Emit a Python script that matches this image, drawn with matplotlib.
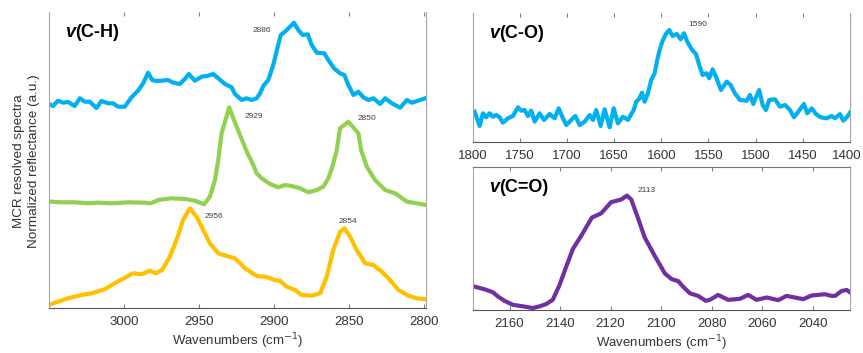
import matplotlib
matplotlib.use("Agg")
import matplotlib.pyplot as plt
import matplotlib.transforms as mtransforms

plt.rcParams['font.family'] = ['Liberation Sans', 'DejaVu Sans']

# v(C-H) panel: three MCR components (wavenumber, relative height)
ch_top_x = [3049.5, 3047.3, 3044.0, 3040.7, 3037.3, 3032.9, 3029.5, 3026.2, 3022.9, 3018.4,
            3015.1, 3010.7, 3007.3, 3004.0, 2999.5, 2995.1, 2990.7, 2987.3, 2984.0, 2981.3,
            2978.4, 2975.1, 2970.7, 2967.3, 2962.9, 2959.5, 2956.9, 2952.9, 2948.4, 2944.0,
            2940.7, 2937.3, 2932.9, 2928.4, 2926.2, 2921.7, 2918.4, 2915.1, 2911.7, 2909.5,
            2907.3, 2904.0, 2900.7, 2897.7, 2895.7, 2892.9, 2889.5, 2886.9, 2884.0, 2881.1,
            2877.7, 2875.1, 2871.7, 2866.7, 2864.0, 2860.2, 2856.2, 2853.3, 2850.7, 2847.3,
            2844.0, 2840.7, 2837.3, 2834.0, 2829.5, 2826.2, 2821.7, 2816.2, 2811.7, 2808.4,
            2802.9, 2799.5]
ch_top_y = [203.7, 202.0, 207.3, 205.3, 206.0, 202.0, 209.7, 206.3, 206.3, 200.0,
            207.0, 204.7, 204.7, 201.3, 201.3, 210.7, 217.3, 224.7, 235.3, 228.0,
            227.0, 227.3, 228.0, 225.3, 224.0, 229.0, 234.0, 227.3, 231.3, 232.3,
            234.0, 229.7, 224.0, 220.7, 214.0, 208.0, 209.7, 208.0, 209.7, 214.7,
            222.0, 228.0, 243.0, 261.3, 273.0, 276.3, 281.3, 285.3, 278.0, 273.0,
            273.7, 263.0, 255.3, 254.7, 248.0, 239.7, 234.7, 233.0, 223.0, 213.0,
            216.3, 210.7, 208.0, 209.7, 204.0, 209.7, 204.7, 200.3, 208.0, 205.3,
            208.0, 209.7]

ch_mid_x = [3048.4, 3041.7, 3032.9, 3024.0, 3017.3, 3008.4, 2997.3, 2986.2, 2982.2, 2977.3,
            2968.4, 2959.5, 2952.9, 2946.7, 2942.9, 2939.5, 2937.3, 2935.1, 2930.0, 2925.1,
            2918.2, 2914.0, 2911.7, 2908.4, 2902.9, 2897.3, 2892.9, 2888.4, 2882.9, 2877.3,
            2871.7, 2867.3, 2864.0, 2861.3, 2858.4, 2856.2, 2850.7, 2844.0, 2842.2, 2838.4,
            2832.9, 2826.2, 2819.5, 2811.7, 2805.1, 2799.0]
ch_mid_y = [106.3, 105.7, 105.7, 104.7, 105.3, 104.7, 105.7, 105.3, 104.7, 108.0,
            109.7, 109.0, 107.3, 103.7, 111.3, 128.0, 148.0, 174.7, 200.7, 181.3,
            156.0, 143.0, 134.7, 129.7, 124.0, 120.7, 123.0, 122.0, 119.7, 115.7,
            118.0, 121.3, 129.7, 141.3, 158.0, 179.7, 186.3, 174.7, 158.0, 141.3,
            128.0, 118.0, 114.7, 106.3, 104.7, 103.0]

ch_low_x = [3048.4, 3044.0, 3037.3, 3028.4, 3021.7, 3012.9, 3006.2, 2999.5, 2994.0, 2988.4,
            2982.9, 2978.9, 2974.7, 2969.5, 2965.1, 2960.7, 2956.2, 2951.7, 2947.3, 2942.9,
            2937.3, 2931.7, 2926.2, 2922.9, 2919.5, 2911.7, 2906.2, 2899.5, 2896.2, 2891.8,
            2886.2, 2881.8, 2875.1, 2869.5, 2865.1, 2860.7, 2856.2, 2853.3, 2849.5, 2845.1,
            2839.5, 2834.0, 2828.4, 2822.9, 2817.3, 2810.7, 2805.1, 2799.0]
ch_low_y = [4.0, 6.3, 9.7, 13.0, 14.7, 18.7, 24.7, 30.3, 34.7, 33.7,
            37.3, 34.7, 38.0, 51.3, 68.0, 88.0, 99.7, 91.3, 78.0, 64.7,
            54.7, 52.0, 49.7, 45.0, 39.7, 32.0, 31.3, 28.0, 27.3, 21.3,
            18.0, 13.0, 12.3, 14.7, 31.3, 58.0, 76.3, 79.7, 71.3, 58.0,
            44.7, 43.0, 36.3, 28.0, 18.0, 12.3, 9.7, 8.7]

# v(C-O) panel
co_x = [1797.9, 1792.6, 1789.1, 1785.6, 1782.0, 1778.5, 1775.0, 1771.4, 1767.9, 1762.6,
        1757.3, 1752.0, 1748.5, 1744.9, 1741.4, 1737.9, 1734.3, 1729.0, 1724.4, 1718.4,
        1713.1, 1708.8, 1704.3, 1700.8, 1695.5, 1691.2, 1686.6, 1681.3, 1676.0, 1672.5,
        1669.0, 1664.3, 1660.1, 1654.8, 1650.5, 1646.0, 1640.7, 1635.4, 1629.3, 1626.6,
        1623.0, 1620.5, 1617.7, 1614.2, 1610.7, 1607.1, 1604.3, 1601.8, 1598.8, 1595.1,
        1591.6, 1588.0, 1583.7, 1579.5, 1576.0, 1572.5, 1567.8, 1563.3, 1559.8, 1556.2,
        1551.9, 1549.2, 1545.6, 1542.1, 1536.8, 1530.7, 1526.5, 1522.0, 1516.6, 1509.5,
        1506.0, 1502.5, 1499.7, 1496.2, 1492.6, 1489.1, 1485.6, 1479.5, 1474.2, 1468.9,
        1463.6, 1459.4, 1454.8, 1448.8, 1445.3, 1440.6, 1436.1, 1431.1, 1424.7, 1419.4,
        1415.9, 1410.6, 1407.1, 1402.9, 1400.0]
co_y = [30.0, 15.7, 28.4, 24.4, 28.4, 25.0, 26.7, 24.4, 19.0, 23.4,
        25.7, 34.4, 31.0, 31.7, 25.7, 31.0, 20.0, 28.4, 21.7, 27.7,
        23.4, 33.4, 23.4, 16.7, 21.7, 25.7, 16.7, 20.0, 26.7, 21.7,
        31.7, 15.7, 32.4, 14.4, 33.4, 18.4, 25.0, 21.7, 31.7, 40.0,
        43.4, 49.0, 40.0, 48.4, 61.7, 68.4, 81.7, 91.7, 100.5, 107.7,
        111.7, 105.7, 107.7, 102.4, 108.4, 100.0, 92.4, 87.7, 76.7, 66.7,
        68.4, 63.4, 72.4, 65.0, 51.7, 60.0, 56.7, 48.4, 41.7, 41.0,
        46.7, 37.7, 44.4, 51.7, 36.7, 31.7, 41.7, 42.4, 35.0, 36.7,
        31.7, 24.4, 30.0, 37.7, 28.4, 33.4, 27.7, 24.4, 23.4, 25.7,
        23.4, 27.7, 21.0, 25.0, 29.0]

# v(C=O) panel
cdo_x = [2173.9, 2169.9, 2166.6, 2164.6, 2162.0, 2158.7, 2154.7, 2150.8, 2148.1, 2145.5,
         2142.9, 2140.2, 2137.6, 2134.9, 2131.6, 2127.4, 2123.7, 2119.8, 2115.8, 2113.5,
         2111.8, 2109.2, 2106.5, 2102.6, 2099.6, 2098.5, 2095.8, 2093.2, 2091.3, 2088.6,
         2085.3, 2082.3, 2080.7, 2077.4, 2073.4, 2068.8, 2065.5, 2062.2, 2058.2, 2053.6,
         2050.3, 2043.7, 2040.4, 2035.1, 2032.5, 2031.1, 2028.5, 2026.5, 2025.2]
cdo_y = [21.7, 19.0, 16.0, 11.7, 7.3, 3.3, 1.7, 0.0, 1.7, 4.0,
         8.3, 23.3, 41.7, 60.0, 73.3, 91.7, 96.0, 107.3, 110.0, 114.0,
         110.0, 91.7, 71.7, 53.3, 40.0, 35.0, 29.3, 27.3, 21.7, 15.0,
         12.3, 7.3, 8.3, 13.3, 8.3, 9.3, 13.3, 8.3, 10.7, 8.0,
         12.3, 9.0, 12.7, 14.0, 12.3, 12.3, 17.3, 18.3, 16.0]

blue = '#00b0f0'
green = '#92d050'
gold = '#ffc000'
purple = '#7030a0'
lw = 3.0

fig = plt.figure(figsize=(8.63, 3.53), dpi=100)
ax1 = fig.add_axes([0.0568, 0.1275, 0.4368, 0.8385])
ax2 = fig.add_axes([0.5477, 0.5986, 0.4372, 0.3646])
ax3 = fig.add_axes([0.5477, 0.1218, 0.4372, 0.4060])


def style(ax, top_spine=False):
    ax.set_yticks([])
    ax.tick_params(axis='x', direction='in', top=True, bottom=True, length=3,
                   color='#808080', labelsize=9.5, labelcolor='#333333', pad=6)
    for s in ['left', 'right']:
        ax.spines[s].set_color('#a6a6a6')
    ax.spines['bottom'].set_color('#555555')
    if top_spine:
        ax.spines['top'].set_color('#777777')
    else:
        ax.spines['top'].set_visible(False)


def title(ax, label):
    t = ax.annotate('v', xy=(0, 1), xycoords='axes fraction', xytext=(11.5, -15),
                    textcoords='offset points', fontsize=13, fontweight='bold',
                    fontstyle='italic', va='center', ha='left')
    ax.annotate(label, xy=(1, 0), xycoords=t, fontsize=13, fontweight='bold',
                va='bottom', ha='left')


def peak(ax, x, y, s):
    ax.text(x, y, s, fontsize=6, color='#404040', ha='center', va='center')


ax1.plot(ch_top_x, ch_top_y, color=blue, lw=lw)
ax1.plot(ch_mid_x, ch_mid_y, color=green, lw=lw)
ax1.plot(ch_low_x, ch_low_y, color=gold, lw=lw)
ax1.set_xlim(3050, 2799)
ax1.set_ylim(0, 296)
ax1.set_xticks([3000, 2950, 2900, 2850, 2800])
style(ax1)
title(ax1, '(C-H)')
ax1.set_xlabel('Wavenumbers (cm$^{-1}$)', fontsize=9.5, color='#333333', labelpad=2)
peak(ax1, 2908.4, 277.3, '2886')
peak(ax1, 2913.5, 191, '2929')
peak(ax1, 2838.4, 189, '2850')
peak(ax1, 2940.2, 91.3, '2956')
peak(ax1, 2851, 86.3, '2854')

ax2.plot(co_x, co_y, color=blue, lw=lw)
ax2.set_xlim(1800, 1400)
ax2.set_ylim(0, 128.7)
ax2.set_xticks(list(range(1800, 1399, -50)))
style(ax2)
title(ax2, '(C-O)')
peak(ax2, 1561, 116.7, '1590')
# keep the last label inside the figure edge
last = ax2.get_xticklabels()[-1]
last.set_transform(last.get_transform() +
                   mtransforms.ScaledTranslation(-3 / 100, 0, fig.dpi_scale_trans))

ax3.plot(cdo_x, cdo_y, color=purple, lw=lw)
ax3.set_xlim(2174.6, 2025.2)
ax3.set_ylim(-2, 143.3)
ax3.set_xticks(list(range(2160, 2039, -20)))
style(ax3, top_spine=True)
title(ax3, '(C=O)')
peak(ax3, 2105.7, 119.3, '2113')
ax3.set_xlabel('Wavenumbers (cm$^{-1}$)', fontsize=9.5, color='#333333', labelpad=2)

fig.text(0.0306, 0.544, 'MCR resolved spectra\nNormalized reflectance (a.u.)',
         rotation=90, ha='center', va='center', fontsize=9.7, color='#333333',
         linespacing=1.3)

fig.savefig('out.png', dpi=100)
